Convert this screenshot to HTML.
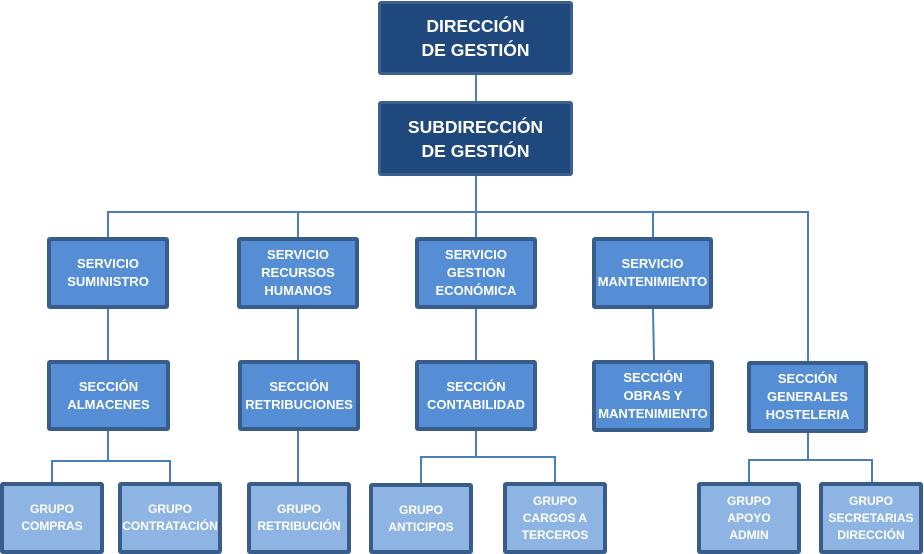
<!DOCTYPE html>
<html><head><meta charset="utf-8">
<style>
html,body{margin:0;padding:0;background:#fff;}
body{width:924px;height:554px;position:relative;overflow:hidden;font-family:"Liberation Sans",Arial,sans-serif;}
.b{position:absolute;box-sizing:border-box;border:4px solid #385D8A;border-radius:3px;display:flex;align-items:center;justify-content:center;text-align:center;color:#fff;font-weight:bold;white-space:nowrap;}
.t{background:#1F497D;border-color:#3B6090;border-width:3px;font-size:17.5px;line-height:24px;}
.m{background:#558ED5;font-size:13px;line-height:18px;}
.g{background:#8EB4E3;font-size:12px;line-height:17px;}
svg{position:absolute;left:0;top:0;}
</style></head><body>
<svg width="924" height="554">
<g stroke="#4A7EBB" stroke-width="2" fill="none">
<line x1="476" y1="74" x2="476" y2="101"/>
<line x1="476" y1="175" x2="476" y2="212"/>
<line x1="107" y1="212" x2="809" y2="212"/>
<line x1="108" y1="212" x2="108" y2="237"/>
<line x1="298" y1="212" x2="298" y2="237"/>
<line x1="476" y1="212" x2="476" y2="237"/>
<line x1="653" y1="212" x2="653" y2="237"/>
<line x1="808" y1="211" x2="808" y2="361"/>
<line x1="108" y1="309" x2="108" y2="360"/>
<line x1="298" y1="309" x2="298" y2="360"/>
<line x1="476" y1="309" x2="476" y2="360"/>
<line x1="653" y1="309" x2="654" y2="360"/>
<line x1="108" y1="431" x2="108" y2="461"/>
<polyline points="52,482 52,461 170,461 170,482"/>
<line x1="298" y1="431" x2="298" y2="482"/>
<line x1="476" y1="431" x2="476" y2="457"/>
<polyline points="421,483 421,457 555,457 555,482"/>
<line x1="808" y1="433" x2="808" y2="460"/>
<polyline points="749,482 749,460 872,460 872,482"/>
</g>
</svg>

<div class="b t" style="left:378px;top:1px;width:195px;height:74px;">DIRECCIÓN<br>DE GESTIÓN</div>
<div class="b t" style="left:378px;top:101px;width:195px;height:75px;">SUBDIRECCIÓN<br>DE GESTIÓN</div>

<div class="b m" style="left:47px;top:237px;width:122px;height:72px;">SERVICIO<br>SUMINISTRO</div>
<div class="b m" style="left:237px;top:237px;width:122px;height:72px;">SERVICIO<br>RECURSOS<br>HUMANOS</div>
<div class="b m" style="left:415px;top:237px;width:122px;height:72px;">SERVICIO<br>GESTION<br>ECONÓMICA</div>
<div class="b m" style="left:592px;top:237px;width:121px;height:72px;">SERVICIO<br>MANTENIMIENTO</div>

<div class="b m" style="left:47px;top:360px;width:123px;height:71px;">SECCIÓN<br>ALMACENES</div>
<div class="b m" style="left:238px;top:360px;width:122px;height:71px;">SECCIÓN<br>RETRIBUCIONES</div>
<div class="b m" style="left:415px;top:360px;width:122px;height:71px;">SECCIÓN<br>CONTABILIDAD</div>
<div class="b m" style="left:592px;top:360px;width:122px;height:72px;">SECCIÓN<br>OBRAS Y<br>MANTENIMIENTO</div>
<div class="b m" style="left:747px;top:361px;width:121px;height:72px;">SECCIÓN<br>GENERALES<br>HOSTELERIA</div>

<div class="b g" style="left:0px;top:482px;width:104px;height:72px;">GRUPO<br>COMPRAS</div>
<div class="b g" style="left:118px;top:482px;width:104px;height:72px;">GRUPO<br>CONTRATACIÓN</div>
<div class="b g" style="left:247px;top:482px;width:104px;height:72px;">GRUPO<br>RETRIBUCIÓN</div>
<div class="b g" style="left:369px;top:483px;width:104px;height:71px;">GRUPO<br>ANTICIPOS</div>
<div class="b g" style="left:503px;top:482px;width:104px;height:72px;">GRUPO<br>CARGOS A<br>TERCEROS</div>
<div class="b g" style="left:697px;top:482px;width:104px;height:72px;">GRUPO<br>APOYO<br>ADMIN</div>
<div class="b g" style="left:819px;top:482px;width:104px;height:72px;">GRUPO<br>SECRETARIAS<br>DIRECCIÓN</div>
</body></html>
